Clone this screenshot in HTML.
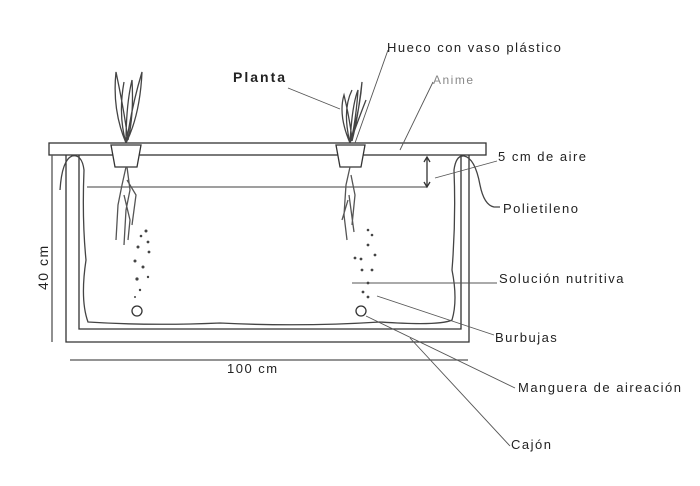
<!DOCTYPE html>
<html><head><meta charset="utf-8"><style>
html,body{margin:0;padding:0;background:#fff;}
svg{display:block}
text{font-family:"Liberation Sans",sans-serif;fill:#222;letter-spacing:1.5px;}
</style></head><body>
<svg width="700" height="486" viewBox="0 0 700 486" xmlns="http://www.w3.org/2000/svg">
<g fill="none" stroke="#333" stroke-width="1.3">
<rect x="49" y="143" width="437" height="12" fill="#fff"/>
<path d="M66 155 V342 H469 V155"/>
<path d="M79 155 V329 H461 V155"/>
<line x1="87" y1="187" x2="427" y2="187" stroke="#666"/>
<path d="M60 190 Q62 160 72 156 Q82 154 84 170 Q82 220 86 260 Q80 300 88 322 Q150 326 220 323 Q300 327 380 322 Q440 326 452 320 Q458 300 452 270 Q456 220 454 170 Q456 155 464 156 Q475 158 480 185 Q484 205 494 207 L500 207" stroke="#444"/>
<path d="M111 145 H141 L137 167 H115 Z" fill="#fff"/>
<path d="M336 145 H365 L361 167 H340 Z" fill="#fff"/>
<path d="M126 167 L122 185 L118 205 L116 240 M127 167 L130 190 L126 210 L124 245 M127 180 L136 195 L132 225 M124 195 L130 220 L128 240" stroke="#555"/>
<path d="M350 167 L346 185 L344 215 L347 240 M351 175 L355 195 L352 225 M348 200 L342 220 M349 195 L354 232" stroke="#555"/>
<path d="M126 143 Q112 110 116 72 Q124 110 128 140 M126 143 Q140 115 142 72 Q132 105 127 140 M126 143 Q126 105 132 80 Q134 115 128 140 M126 143 Q118 115 124 82" stroke="#444"/>
<path d="M350 143 Q338 115 344 95 Q350 120 352 140 M350 143 Q360 110 362 82 Q358 118 352 141 M350 143 Q352 105 358 90 Q356 120 351 141 M350 143 Q342 110 352 90 M350 143 Q360 115 366 100" stroke="#444"/>
<circle cx="137" cy="311" r="5"/>
<circle cx="361" cy="311" r="5"/>
<line x1="52" y1="155" x2="52" y2="342" stroke="#555"/>
<line x1="70" y1="360" x2="468" y2="360" stroke="#555"/>
<line x1="427" y1="157" x2="427" y2="187" stroke="#333"/>
<path d="M424 162 L427 157 L430 162 M424 182 L427 187 L430 182" stroke="#333"/>
<g stroke="#555" stroke-width="0.9">
<line x1="288" y1="88" x2="340" y2="109"/>
<line x1="388" y1="50" x2="355" y2="143"/>
<line x1="433" y1="82" x2="400" y2="150"/>
<line x1="497" y1="161" x2="435" y2="178"/>
<line x1="352" y1="283" x2="497" y2="283"/>
<line x1="377" y1="296" x2="494" y2="335"/>
<line x1="366" y1="316" x2="515" y2="388"/>
<line x1="410" y1="338" x2="510" y2="446"/>
</g>
</g>
<g fill="#444">
<circle cx="146" cy="231" r="1.5"/><circle cx="141" cy="236" r="1.3"/><circle cx="148" cy="242" r="1.4"/>
<circle cx="138" cy="247" r="1.5"/><circle cx="149" cy="252" r="1.4"/><circle cx="135" cy="261" r="1.5"/>
<circle cx="143" cy="267" r="1.5"/><circle cx="137" cy="279" r="1.6"/><circle cx="148" cy="277" r="1.2"/>
<circle cx="140" cy="290" r="1.2"/><circle cx="135" cy="297" r="1"/>
<circle cx="368" cy="230" r="1.3"/><circle cx="372" cy="235" r="1.3"/><circle cx="368" cy="245" r="1.4"/>
<circle cx="355" cy="258" r="1.4"/><circle cx="375" cy="255" r="1.4"/><circle cx="361" cy="259" r="1.4"/>
<circle cx="362" cy="270" r="1.4"/><circle cx="372" cy="270" r="1.4"/><circle cx="368" cy="283" r="1.4"/>
<circle cx="363" cy="292" r="1.4"/><circle cx="368" cy="297" r="1.4"/>
</g>
<text x="387" y="52" font-size="13">Hueco con vaso plástico</text>
<text x="233" y="82" font-size="14" font-weight="bold" style="letter-spacing:2px">Planta</text>
<text x="433" y="84" font-size="12" style="fill:#888">Anime</text>
<text x="498" y="161" font-size="13">5 cm de aire</text>
<text x="503" y="213" font-size="13">Polietileno</text>
<text x="499" y="283" font-size="13">Solución nutritiva</text>
<text x="495" y="342" font-size="13">Burbujas</text>
<text x="518" y="392" font-size="13">Manguera de aireación</text>
<text x="511" y="449" font-size="13">Cajón</text>
<text x="227" y="373" font-size="13">100 cm</text>
<text transform="translate(48,290) rotate(-90)" font-size="14">40 cm</text>
</svg>
</body></html>
